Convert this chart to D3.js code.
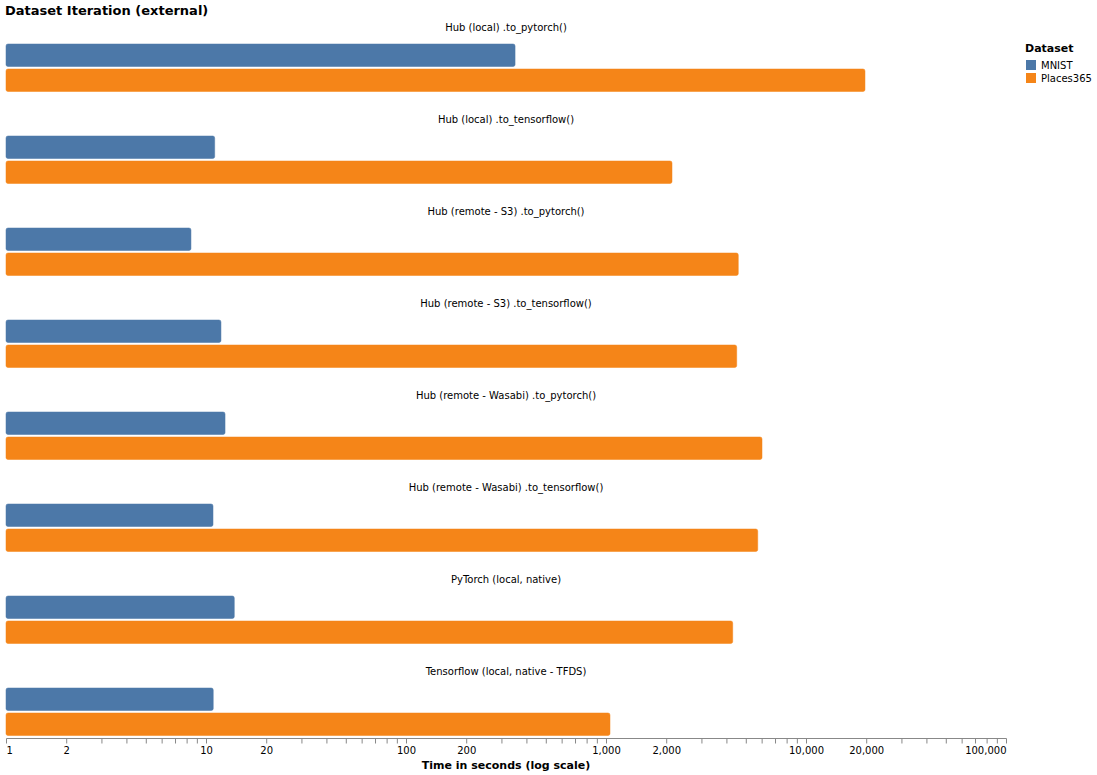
<!DOCTYPE html>
<html><head><meta charset="utf-8">
<script src="https://cdn.jsdelivr.net/npm/d3@7"></script>
<style>body{margin:0;background:#fff;} text{font-family:"DejaVu Sans",sans-serif;}</style>
</head><body><svg id="c" width="1097" height="775"></svg>
<script>
const methods = ["Hub (local) .to_pytorch()","Hub (local) .to_tensorflow()","Hub (remote - S3) .to_pytorch()","Hub (remote - S3) .to_tensorflow()","Hub (remote - Wasabi) .to_pytorch()","Hub (remote - Wasabi) .to_tensorflow()","PyTorch (local, native)","Tensorflow (local, native - TFDS)"];
const datasets = ["MNIST","Places365"];
const mnist = [351, 11.05, 8.41, 11.88, 12.45, 10.84, 13.85, 10.87];
const places = [19720, 2138, 4586, 4503, 6026, 5736, 4300, 1047];
const tickValues = [1,2,10,20,100,200,1000,2000,10000,20000,100000];
const colors = ["#4c78a8","#f58518"];

const svg = d3.select("#c");
const x = d3.scaleLog().domain([1,100000]).range([6,1006]);
const color = d3.scaleOrdinal().domain(datasets).range(colors);
const band = d3.scaleBand().domain(datasets).range([0,50]).paddingInner(0.1).paddingOuter(0.05);
const rowY = d3.scaleLinear().domain([0,1]).range([42.75, 134.75]);

svg.append("text").attr("x",5).attr("y",15).attr("font-size",13).attr("font-weight","bold").text("Dataset Iteration (external)");

methods.forEach((m,i)=>{
  const g = svg.append("g").attr("transform",`translate(0,${rowY(i)})`);
  g.append("text").attr("x",506).attr("y",-12).attr("text-anchor","middle").attr("font-size",10).attr("fill","#000").text(m);
  const vals = [{d:"MNIST",v:mnist[i]},{d:"Places365",v:places[i]}];
  g.selectAll("rect").data(vals).join("rect")
    .attr("x",x(1)).attr("y",d=>band(d.d))
    .attr("width",d=>x(d.v)-x(1)).attr("height",band.bandwidth())
    .attr("rx",2).attr("fill",d=>color(d.d))
    .attr("stroke",d=>color(d.d)).attr("stroke-opacity",0.5).attr("stroke-width",1);
});

// axis
const allTicks = [];
for (let e=0;e<5;e++) for (let k=1;k<10;k++) allTicks.push(k*Math.pow(10,e));
allTicks.push(100000);
const fmt = d3.format(",");
const axis = d3.axisBottom(x).tickValues(allTicks).tickSize(5).tickPadding(3)
  .tickFormat(d=>tickValues.includes(d)?fmt(d):"");
const ag = svg.append("g").attr("transform","translate(0,738.5)").call(axis);
ag.select(".domain").attr("stroke","#888").attr("d","M6.5,0H1006.5");
ag.selectAll(".tick line").attr("stroke","#888");
ag.selectAll(".tick text").attr("font-size",10).attr("fill","#000").attr("font-family","DejaVu Sans");
ag.selectAll(".tick text").filter(d=>d===1).attr("text-anchor","start");
ag.selectAll(".tick text").filter(d=>d===100000).attr("text-anchor","end");
svg.append("text").attr("x",506).attr("y",769).attr("text-anchor","middle").attr("font-size",11).attr("font-weight","bold").text("Time in seconds (log scale)");

// legend
const lg = svg.append("g").attr("transform","translate(1025,0)");
lg.append("text").attr("x",0).attr("y",52).attr("font-size",11).attr("font-weight","bold").text("Dataset");
datasets.forEach((d,i)=>{
  lg.append("rect").attr("x",1).attr("y",60+i*13).attr("width",10).attr("height",10).attr("fill",color(d));
  lg.append("text").attr("x",16).attr("y",69+i*13).attr("font-size",10).text(d);
});
</script></body></html>
